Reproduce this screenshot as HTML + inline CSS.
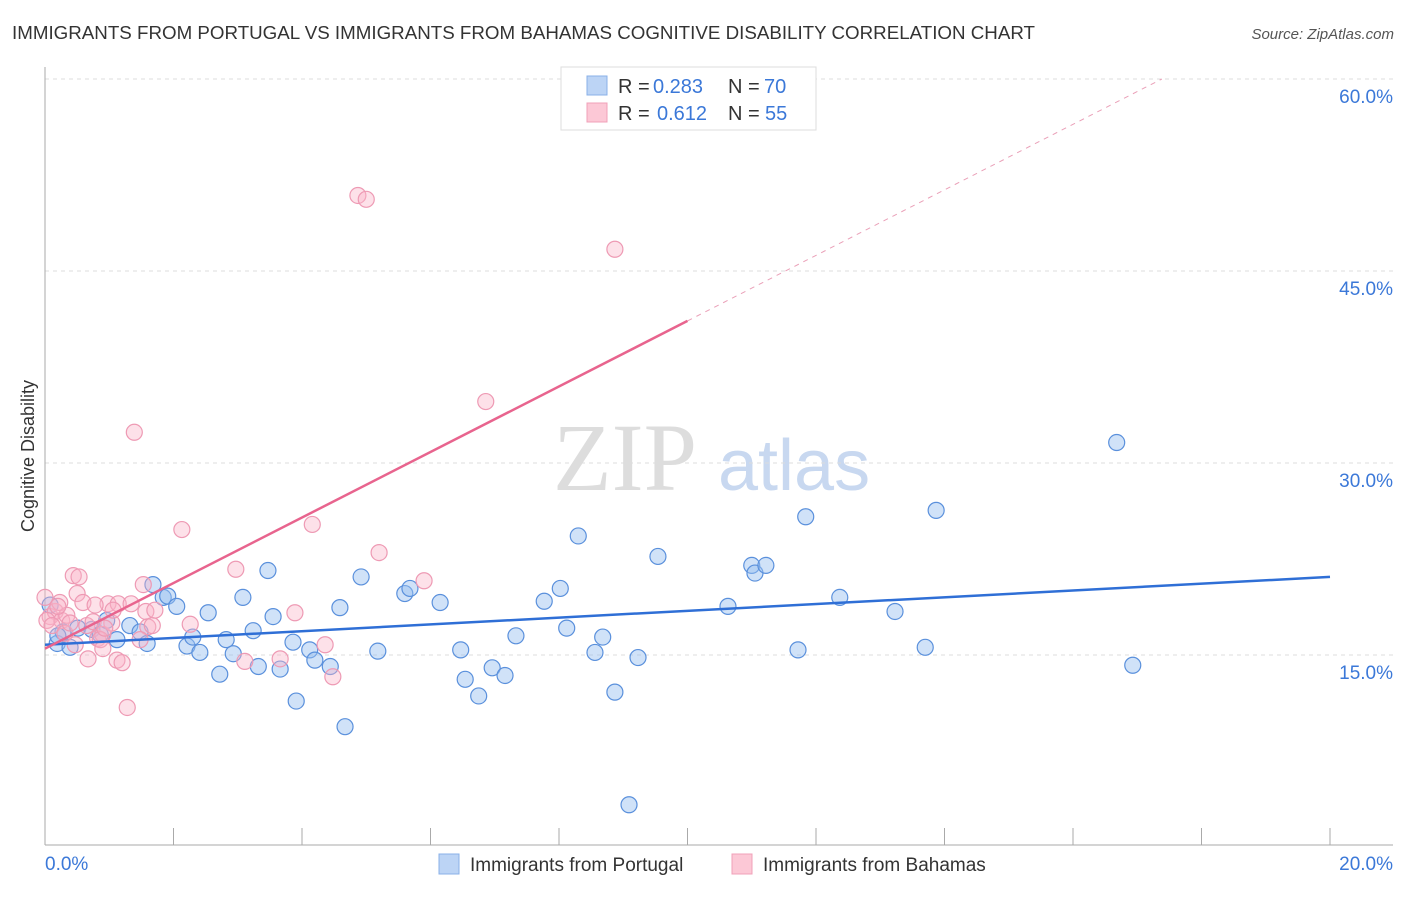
<!DOCTYPE html>
<html><head><meta charset="utf-8"><style>
body{margin:0;background:#fff;width:1406px;height:892px;overflow:hidden;font-family:"Liberation Sans",sans-serif}
</style></head><body>
<svg id="chart" width="1406" height="892" viewBox="0 0 1406 892" xmlns="http://www.w3.org/2000/svg" font-family="Liberation Sans, sans-serif">
<text x="12" y="39" font-size="18" fill="#333" textLength="1023" lengthAdjust="spacingAndGlyphs">IMMIGRANTS FROM PORTUGAL VS IMMIGRANTS FROM BAHAMAS COGNITIVE DISABILITY CORRELATION CHART</text>
<text x="1394" y="39" font-size="15" fill="#555" font-style="italic" text-anchor="end">Source: ZipAtlas.com</text>
<g>
<text x="553" y="490" font-size="96" font-family="Liberation Serif, serif" fill="#ddd">ZIP</text>
<text x="718" y="490" font-size="72" fill="#c8d8f0">atlas</text>
</g>
<g id="grid"></g>
<g id="axes"></g>
<g id="pts"></g>
<g id="lines"></g>
<g>
<rect x="561" y="67" width="255" height="63" fill="#fff" stroke="#ddd"/>
<rect x="587" y="76" width="20" height="19" fill="#bcd4f5" stroke="#8ab0e8"/>
<rect x="587" y="103" width="20" height="19" fill="#fcc8d6" stroke="#f0a0b8"/>
<text x="618" y="93" font-size="20" fill="#333">R =</text>
<text x="653" y="93" font-size="20" fill="#3b78d8">0.283</text>
<text x="728" y="93" font-size="20" fill="#333">N =</text>
<text x="764" y="93" font-size="20" fill="#3b78d8">70</text>
<text x="618" y="120" font-size="20" fill="#333">R =</text>
<text x="657" y="120" font-size="20" fill="#3b78d8">0.612</text>
<text x="728" y="120" font-size="20" fill="#333">N =</text>
<text x="765" y="120" font-size="20" fill="#3b78d8">55</text>
</g>
<text transform="translate(34,456) rotate(-90)" font-size="18" fill="#333" text-anchor="middle">Cognitive Disability</text>
<g>
<rect x="439" y="854" width="20" height="20" fill="#bcd4f5" stroke="#8ab0e8"/>
<text x="470" y="871" font-size="19" fill="#333">Immigrants from Portugal</text>
<rect x="732" y="854" width="20" height="20" fill="#fcc8d6" stroke="#f0a0b8"/>
<text x="763" y="871" font-size="19" fill="#333">Immigrants from Bahamas</text>
</g>
</svg>
<script>
const blueX=[0.08,0.19,0.28,0.39,0.51,0.73,0.86,0.96,1.12,1.32,1.48,1.59,1.68,1.84,1.91,2.05,2.21,2.30,2.41,2.54,2.72,2.82,2.93,3.08,3.24,3.32,3.47,3.55,3.66,3.86,3.91,4.12,4.20,4.44,4.59,4.67,4.92,5.18,5.60,5.68,6.15,6.47,6.54,6.75,6.96,7.16,7.33,7.77,8.02,8.12,8.30,8.56,8.68,8.87,9.09,9.23,9.54,10.63,11.00,11.05,11.22,11.72,11.84,12.37,13.23,13.70,13.87,16.68,16.93,0.20];
const blueY=[18.9,15.9,16.8,15.6,17.1,17.0,16.6,17.7,16.2,17.3,16.8,15.9,20.5,19.5,19.6,18.8,15.7,16.4,15.2,18.3,13.5,16.2,15.1,19.5,16.9,14.1,21.6,18.0,13.9,16.0,11.4,15.4,14.6,14.1,18.7,9.4,21.1,15.3,19.8,20.2,19.1,15.4,13.1,11.8,14.0,13.4,16.5,19.2,20.2,17.1,24.3,15.2,16.4,12.1,3.3,14.8,22.7,18.8,22.0,21.4,22.0,15.4,25.8,19.5,18.4,15.6,26.3,31.6,14.2,16.5];
const pinkX=[0.0,0.08,0.16,0.23,0.26,0.34,0.44,0.53,0.50,0.59,0.65,0.67,0.75,0.82,0.90,0.98,1.04,1.12,1.20,1.14,1.28,1.34,1.39,1.53,1.57,1.60,1.67,2.13,2.26,2.97,3.11,3.66,3.89,4.16,4.36,4.48,4.87,5.00,5.20,5.90,6.86,8.87,0.03,0.11,0.20,0.31,0.39,0.47,0.78,0.86,0.93,1.06,1.48,1.71,0.90];
const pinkY=[19.5,18.0,18.4,19.1,17.7,18.1,21.2,21.1,19.8,19.1,17.3,14.7,17.6,16.3,16.6,19.0,17.5,14.6,14.4,19.0,10.9,19.0,32.4,20.5,18.4,17.2,17.3,24.8,17.4,21.7,14.5,14.7,18.3,25.2,15.8,13.3,50.9,50.6,23.0,20.8,34.8,46.7,17.7,17.3,18.8,16.7,17.5,15.8,18.9,16.2,17.1,18.5,16.2,18.5,15.5];
const yTicks=[15,30,45,60];
const yTickLabels=["15.0%","30.0%","45.0%","60.0%"];
const xTicks=[0,2,4,6,8,10,12,14,16,18,20];
const blueLine=[15.8,21.1];
const pinkLine=[15.5,41.1];
const X=v=>45+v*64.25, Y=v=>847-v*12.8;
const NS="http://www.w3.org/2000/svg";
function mk(p,t,a){const e=document.createElementNS(NS,t);for(const k in a)e.setAttribute(k,a[k]);p.appendChild(e);return e;}
const grid=document.getElementById('grid'),axes=document.getElementById('axes'),pts=document.getElementById('pts'),lines=document.getElementById('lines');
yTicks.forEach((t,i)=>{
 const l=mk(grid,'line',{x1:45,x2:1393,y1:Y(t),y2:Y(t),stroke:'#ddd','stroke-dasharray':'4,4'});
 
 
 const tx=mk(axes,'text',{x:1393,y:Y(t)+24,'font-size':19,fill:'#3b78d8','text-anchor':'end'});
 tx.textContent=yTickLabels[i];
 
 
});
const ax=mk(axes,'line',{x1:45,x2:1393,y1:845,y2:845,stroke:'#aaa'});


const ay=mk(axes,'line',{x1:45,x2:45,y1:67,y2:845,stroke:'#aaa'});


xTicks.forEach(t=>{const l=mk(axes,'line',{x1:X(t),x2:X(t),y1:828,y2:845,stroke:'#aaa'});
 
 });
[["0.0%",45,'start'],["20.0%",1393,'end']].forEach(d=>{const t=mk(axes,'text',{x:d[1],y:870,'font-size':19,fill:'#3b78d8','text-anchor':d[2]});t.textContent=d[0];
 
 });
blueX.forEach((v,i)=>{const c=mk(pts,'circle',{cx:X(v),cy:Y(blueY[i]),r:8,fill:'rgba(150,190,240,0.45)',stroke:'#5a90dc','stroke-width':1.2});
 
 });
pinkX.forEach((v,i)=>{const c=mk(pts,'circle',{cx:X(v),cy:Y(pinkY[i]),r:8,fill:'rgba(250,180,200,0.4)',stroke:'#ee9ab4','stroke-width':1.2});
 
 });
const bl=mk(lines,'line',{x1:X(0),y1:Y(blueLine[0]),x2:X(20),y2:Y(blueLine[1]),stroke:'#2f6fd6','stroke-width':2.5});


const slope=(pinkLine[1]-pinkLine[0])/10;
const pl=mk(lines,'line',{x1:X(0),y1:Y(pinkLine[0]),x2:X(10),y2:Y(pinkLine[1]),stroke:'#e8648e','stroke-width':2.5});


const yTop=60;
const xEnd=(yTop-pinkLine[0])/slope;
const pd=mk(lines,'line',{x1:X(10),y1:Y(pinkLine[1]),x2:X(xEnd),y2:Y(yTop),stroke:'#eaa0b8','stroke-width':1,'stroke-dasharray':'5,5'});


</script>
</body></html>
